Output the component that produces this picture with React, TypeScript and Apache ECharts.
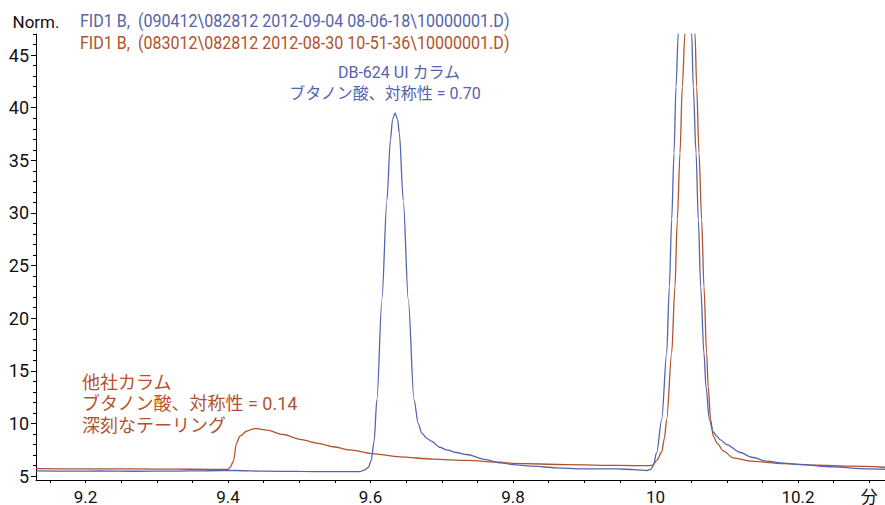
import React, { useEffect, useRef } from "react";
import * as echarts from "echarts";

const FONT = "Roboto, 'Noto Sans CJK JP', sans-serif";
const BLUE = "#5564ad";
const RED = "#b3522b";

const legendBlue = "FID1 B,  (090412\\082812 2012-09-04 08-06-18\\10000001.D)";
const legendRed = "FID1 B,  (083012\\082812 2012-08-30 10-51-36\\10000001.D)";
const yName = "Norm.";
const xUnit = "分";
const blueNote = ["DB-624 UI カラム", "ブタノン酸、対称性 = 0.70"];
const redNote = ["他社カラム", "ブタノン酸、対称性 = 0.14", "深刻なテーリング"];

const xLabelValues = [9.2, 9.4, 9.6, 9.8, 10, 10.2, 10.3];
const xTickValues = [9.15, 9.2, 9.25, 9.3, 9.35, 9.4, 9.45, 9.5, 9.55, 9.6, 9.65, 9.7, 9.75, 9.8, 9.85, 9.9, 9.95, 10, 10.05, 10.1, 10.15, 10.2, 10.25, 10.3];
const yLabelValues = [5, 10, 15, 20, 25, 30, 35, 40, 45];
const yMinorValues = [5, 6, 7, 8, 9, 10, 11, 12, 13, 14, 15, 16, 17, 18, 19, 20, 21, 22, 23, 24, 25, 26, 27, 28, 29, 30, 31, 32, 33, 34, 35, 36, 37, 38, 39, 40, 41, 42, 43, 44, 45, 46, 47];

const blueTimes = [9.131, 9.18, 9.22, 9.27, 9.32, 9.37, 9.41, 9.45, 9.5, 9.55, 9.585, 9.592, 9.597, 9.601, 9.605, 9.609, 9.616, 9.623, 9.628, 9.631, 9.6344, 9.638, 9.6404, 9.646, 9.653, 9.661, 9.667, 9.672, 9.679, 9.686, 9.697, 9.707, 9.72, 9.735, 9.76, 9.782, 9.805, 9.828, 9.86, 9.898, 9.946, 9.97, 9.988, 9.993, 9.9965, 10.0017, 10.0087, 10.0157, 10.0194, 10.0227, 10.026, 10.0288, 10.032, 10.036, 10.041, 10.046, 10.0508, 10.053, 10.0569, 10.0601, 10.0634, 10.068, 10.0709, 10.0755, 10.081, 10.086, 10.0906, 10.1, 10.119, 10.135, 10.156, 10.18, 10.203, 10.249, 10.296, 10.322];
const blueValues = [5.5, 5.48, 5.5, 5.47, 5.48, 5.52, 5.54, 5.48, 5.45, 5.43, 5.44, 5.6, 5.85, 6.5, 8.3, 12.3, 21.8, 31.2, 37.0, 38.9, 39.5, 38.9, 37.6, 31.2, 21.8, 12.3, 10.0, 9.1, 8.6, 8.3, 7.75, 7.5, 7.25, 7.06, 6.6, 6.27, 6.08, 5.95, 5.8, 5.7, 5.7, 5.62, 5.54, 5.65, 5.95, 7.25, 10.38, 16.7, 23.0, 29.35, 35.7, 42.0, 47.1, 56, 62, 56, 47.1, 42.0, 35.7, 29.35, 23.0, 16.7, 13.5, 10.4, 9.2, 8.8, 8.48, 8.0, 7.25, 6.8, 6.43, 6.25, 6.1, 5.89, 5.7, 5.66];

const redTimes = [9.131, 9.2, 9.25, 9.3, 9.35, 9.4, 9.4035, 9.4075, 9.412, 9.4168, 9.426, 9.4355, 9.44, 9.4543, 9.4776, 9.501, 9.5245, 9.5478, 9.5712, 9.6017, 9.6414, 9.6881, 9.735, 9.7818, 9.8004, 9.8754, 9.95, 9.99, 9.9965, 10.0017, 10.0087, 10.0125, 10.0157, 10.0227, 10.0273, 10.0306, 10.0344, 10.0376, 10.0414, 10.0448, 10.0484, 10.052, 10.0554, 10.0578, 10.061, 10.0648, 10.068, 10.0717, 10.074, 10.0773, 10.081, 10.087, 10.095, 10.109, 10.133, 10.179, 10.226, 10.273, 10.322];
const redValues = [5.72, 5.7, 5.7, 5.68, 5.66, 5.64, 5.9, 6.42, 8.17, 8.8, 9.27, 9.5, 9.52, 9.38, 8.96, 8.5, 8.15, 7.8, 7.5, 7.15, 6.84, 6.62, 6.5, 6.33, 6.22, 6.1, 6.02, 6.0, 6.05, 6.5, 7.3, 8.6, 10.4, 16.7, 23.0, 29.35, 35.7, 42.0, 47.1, 56, 62, 56, 47.1, 42.0, 35.7, 29.35, 23.0, 16.7, 13.5, 10.4, 8.8, 8.1, 7.4, 6.75, 6.43, 6.2, 6.04, 5.95, 5.85];

const zip = (xs: number[], ys: number[]) => xs.map((x, i) => [x, ys[i]]);

export default function App() {
  const ref = useRef<HTMLDivElement>(null);
  useEffect(() => {
    if (!ref.current) return;
    const chart = echarts.init(ref.current, null, { renderer: "svg" });
    const xMin = 9.1305;
    const xMax = 10.3221;
    const yMin = 4.64;
    const yMax = 47.0;
    const legendStyle = (text: string, fill: string) => ({
      text,
      fill,
      fontSize: 19,
      fontFamily: FONT,
      verticalAlign: "middle",
    });
    chart.setOption({
      animation: false,
      backgroundColor: "#ffffff",
      grid: { left: 36, right: 0, top: 34, bottom: 25, containLabel: false },
      xAxis: {
        type: "value",
        min: xMin,
        max: xMax,
        axisLine: { show: true, onZero: false, lineStyle: { color: "#000", width: 1 } },
        axisTick: { show: true, length: 3, inside: false, customValues: xTickValues, lineStyle: { color: "#000" } },
        axisLabel: {
          customValues: xLabelValues,
          margin: 8,
          fontSize: 17,
          fontFamily: FONT,
          color: "#111",
          formatter: (v: number) => (Math.abs(v - 10.3) < 1e-6 ? xUnit : String(Math.round(v * 10) / 10)),
        },
        splitLine: { show: false },
      },
      yAxis: [
        {
          type: "value",
          min: yMin,
          max: yMax,
          name: yName,
          nameLocation: "end",
          nameGap: 12,
          nameTextStyle: { fontSize: 17, fontFamily: FONT, color: "#111", align: "center", verticalAlign: "middle" },
          axisLine: { show: true, onZero: false, lineStyle: { color: "#000", width: 1 } },
          axisTick: { show: true, length: 5, customValues: yLabelValues, lineStyle: { color: "#000" } },
          axisLabel: { customValues: yLabelValues, margin: 7, fontSize: 18, fontFamily: FONT, color: "#111" },
          splitLine: { show: false },
        },
        {
          type: "value",
          min: yMin,
          max: yMax,
          position: "left",
          axisLine: { show: false },
          axisTick: { show: true, length: 3, customValues: yMinorValues, lineStyle: { color: "#000" } },
          axisLabel: { show: false },
          splitLine: { show: false },
        },
      ],
      series: [
        {
          type: "line",
          data: zip(redTimes, redValues),
          showSymbol: false,
          smooth: 0.3,
          smoothMonotone: "x",
          clip: true,
          lineStyle: { color: RED, width: 1.3 },
          z: 2,
        },
        {
          type: "line",
          data: zip(blueTimes, blueValues),
          showSymbol: false,
          smooth: 0.3,
          smoothMonotone: "x",
          clip: true,
          lineStyle: { color: BLUE, width: 1.3 },
          z: 3,
        },
      ],
      graphic: [
        { type: "text", x: 80, y: 21, scaleX: 0.846, style: legendStyle(legendBlue, BLUE) },
        { type: "text", x: 80, y: 42.5, scaleX: 0.846, style: legendStyle(legendRed, RED) },
        { type: "text", x: 399, y: 72, style: { text: blueNote[0], fill: BLUE, fontSize: 16, fontFamily: FONT, align: "center", verticalAlign: "middle" } },
        { type: "text", x: 385, y: 93.5, style: { text: blueNote[1], fill: BLUE, fontSize: 16, fontFamily: FONT, align: "center", verticalAlign: "middle" } },
        { type: "text", x: 82, y: 382, style: { text: redNote[0], fill: RED, fontSize: 18, fontFamily: FONT, verticalAlign: "middle" } },
        { type: "text", x: 82, y: 403.5, style: { text: redNote[1], fill: RED, fontSize: 18, fontFamily: FONT, verticalAlign: "middle" } },
        { type: "text", x: 82, y: 425, style: { text: redNote[2], fill: RED, fontSize: 18, fontFamily: FONT, verticalAlign: "middle" } },
      ],
    });
    return () => chart.dispose();
  }, []);
  return <div ref={ref} style={{ position: "fixed", left: 0, top: 0, width: 885, height: 505 }} />;
}
